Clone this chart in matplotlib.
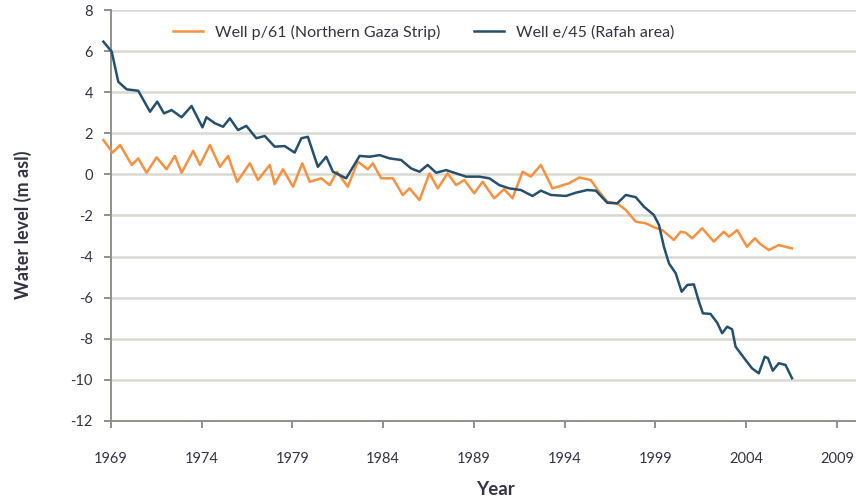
import matplotlib
matplotlib.use("Agg")
import matplotlib.pyplot as plt

plt.rcParams['font.family'] = ['Lato', 'DejaVu Sans']
plt.rcParams['axes.unicode_minus'] = False

# Well p/61 (Northern Gaza Strip)
p61_year = [1968.58, 1969.09, 1969.50, 1970.14, 1970.50, 1970.96, 1971.51, 1972.06, 1972.52, 1972.89,
            1973.53, 1973.90, 1974.45, 1975.00, 1975.45, 1975.95, 1976.65, 1977.10, 1977.75, 1978.02,
            1978.48, 1979.03, 1979.54, 1979.95, 1980.59, 1981.05, 1981.45, 1982.05, 1982.60, 1983.15,
            1983.43, 1983.89, 1984.53, 1985.08, 1985.45, 1986.00, 1986.55, 1987.01, 1987.55, 1988.02,
            1988.47, 1989.02, 1989.48, 1990.12, 1990.67, 1991.13, 1991.68, 1992.14, 1992.69, 1993.33,
            1994.25, 1994.80, 1995.44, 1995.90, 1996.35, 1996.90, 1997.37, 1997.92, 1998.47, 1998.92,
            1999.38, 2000.02, 2000.39, 2000.67, 2001.03, 2001.58, 2002.22, 2002.77, 2003.05, 2003.51,
            2004.05, 2004.48, 2004.79, 2005.25, 2005.80, 2006.53]
p61_level = [1.67, 1.06, 1.43, 0.46, 0.78, 0.08, 0.83, 0.25, 0.90, 0.08,
             1.15, 0.46, 1.43, 0.37, 0.90, -0.36, 0.54, -0.27, 0.46, -0.47,
             0.25, -0.60, 0.54, -0.36, -0.19, -0.52, 0.13, -0.60, 0.62, 0.25,
             0.54, -0.19, -0.19, -1.00, -0.68, -1.25, 0.05, -0.68, 0.05, -0.52,
             -0.27, -0.92, -0.36, -1.16, -0.72, -1.16, 0.13, -0.11, 0.46, -0.68,
             -0.43, -0.15, -0.27, -0.84, -1.33, -1.41, -1.73, -2.30, -2.38, -2.57,
             -2.71, -3.19, -2.79, -2.84, -3.11, -2.62, -3.27, -2.79, -3.03, -2.71,
             -3.52, -3.11, -3.39, -3.68, -3.44, -3.60]

# Well e/45 (Rafah area)
e45_year = [1968.58, 1969.04, 1969.40, 1969.86, 1970.50, 1971.15, 1971.55, 1971.92, 1972.34, 1972.89,
            1973.44, 1974.04, 1974.26, 1974.72, 1975.18, 1975.55, 1976.00, 1976.46, 1977.01, 1977.47,
            1978.02, 1978.57, 1979.12, 1979.49, 1979.85, 1980.40, 1980.86, 1981.23, 1981.96, 1982.70,
            1983.25, 1983.80, 1984.35, 1984.99, 1985.54, 1986.00, 1986.45, 1986.92, 1987.47, 1988.02,
            1988.57, 1989.30, 1989.85, 1990.40, 1990.95, 1991.59, 1992.23, 1992.69, 1993.24, 1994.07,
            1994.62, 1995.25, 1995.72, 1996.35, 1996.90, 1997.37, 1997.92, 1998.37, 1998.92, 1999.20,
            1999.47, 1999.75, 2000.12, 2000.45, 2000.76, 2001.12, 2001.40, 2001.62, 2002.04, 2002.41,
            2002.68, 2002.96, 2003.23, 2003.42, 2003.97, 2004.33, 2004.70, 2005.03, 2005.21, 2005.47,
            2005.80, 2006.17, 2006.53]
e45_level = [6.46, 5.97, 4.51, 4.14, 4.07, 3.05, 3.54, 2.97, 3.13, 2.78,
             3.33, 2.29, 2.78, 2.49, 2.32, 2.73, 2.16, 2.36, 1.76, 1.87,
             1.35, 1.38, 1.06, 1.76, 1.83, 0.37, 0.86, 0.13, -0.19, 0.90,
             0.86, 0.94, 0.78, 0.70, 0.29, 0.13, 0.46, 0.08, 0.21, 0.05,
             -0.11, -0.11, -0.19, -0.52, -0.68, -0.76, -1.05, -0.79, -1.00, -1.05,
             -0.89, -0.76, -0.79, -1.38, -1.41, -1.00, -1.11, -1.57, -1.98, -2.46,
             -3.52, -4.33, -4.81, -5.71, -5.38, -5.35, -6.19, -6.76, -6.79, -7.22,
             -7.73, -7.41, -7.54, -8.38, -9.03, -9.44, -9.68, -8.87, -8.95, -9.55,
             -9.19, -9.27, -9.92]

x_ticks = [1969, 1974, 1979, 1984, 1989, 1994, 1999, 2004, 2009]
y_ticks = list(range(-12, 9, 2))

orange = '#F7913F'
blue = '#24506E'
text_col = '#333344'
spine_col = '#8E918A'
grid_col = '#D9D9D1'

fig = plt.figure(figsize=(8.56, 4.99), dpi=100)
ax = fig.add_axes([111/856, 1-421/499, 1-111/856 + 0.01, (421-10)/499])

ax.plot(p61_year, p61_level, color=orange, lw=1.8, clip_on=False,
        label='Well p/61 (Northern Gaza Strip)', zorder=3)
ax.plot(e45_year, e45_level, color=blue, lw=1.8, clip_on=False,
        label='Well e/45 (Rafah area)', zorder=4)

ax.set_xlim(1969, 1969 + (866 - 111) / 18.18)
ax.set_ylim(-12, 8)
ax.set_xticks(x_ticks)
ax.set_yticks(y_ticks)
ax.set_xticklabels([str(t) for t in x_ticks])
ax.set_yticklabels([str(t) for t in y_ticks])

ax.yaxis.grid(True, color=grid_col, lw=1.8, zorder=0)
ax.set_axisbelow(True)
for s in ['top', 'right']:
    ax.spines[s].set_visible(False)
for s in ['left', 'bottom']:
    ax.spines[s].set_color(spine_col)
    ax.spines[s].set_linewidth(1.4)

ax.tick_params(axis='both', colors=spine_col, labelcolor=text_col, labelsize=10.5,
               length=5, width=1.4, direction='out')
ax.tick_params(axis='x', pad=17)
ax.tick_params(axis='y', pad=8)

ax.set_ylabel('Water level (m asl)', fontsize=13, fontweight='bold', color=text_col, va='center')
ax.yaxis.set_label_coords(-0.1166, 0.477)
ax.set_xlabel('Year', fontsize=13.5, fontweight='bold', color=text_col, va='center')
ax.xaxis.set_label_coords(0.51, -0.1655)

leg = ax.legend(loc='center', bbox_to_anchor=(0.415, 0.946), ncol=2, frameon=False,
                fontsize=11.5, handlelength=1.9, columnspacing=2.1, handletextpad=0.75)
for t in leg.get_texts():
    t.set_color(text_col)

fig.savefig('out.png', dpi=100)
